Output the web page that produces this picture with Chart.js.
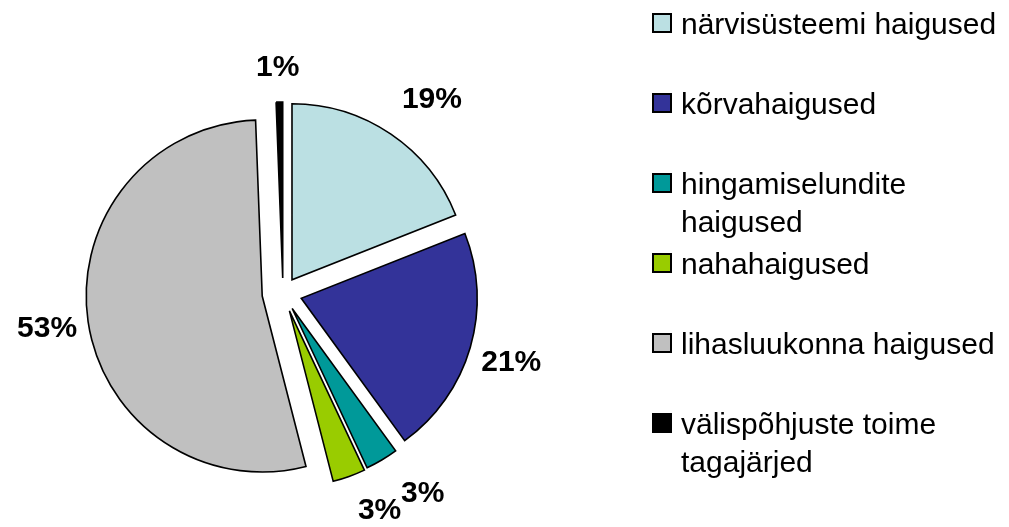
<!DOCTYPE html>
<html lang="et">
<head>
<meta charset="utf-8">
<title>Haigused</title>
<script src="https://cdn.jsdelivr.net/npm/chart.js@4.4.1/dist/chart.umd.min.js"></script>
<style>
    html, body {
        margin: 0;
        padding: 0;
        background: #ffffff;
    }
    #wrap {
        position: relative;
        width: 1009px;
        height: 527px;
        overflow: hidden;
    }
    #pieChart {
        position: absolute;
        left: 0;
        top: 0;
    }
    #legend {
        position: absolute;
        left: 652px;
        top: 5px;
        margin: 0;
        padding: 0;
        list-style: none;
        font-family: "Liberation Sans", Arial, sans-serif;
        font-size: 30px;
        line-height: 38px;
        color: #000000;
    }
    #legend li {
        display: flex;
        align-items: flex-start;
        height: 80px;
    }
    #legend .box {
        flex: none;
        width: 16px;
        height: 16px;
        margin-top: 8px;
        margin-right: 9px;
        border: 2px solid #000000;
    }
    #legend .text {
        width: 328px;
    }
</style>
</head>
<body>
<div id="wrap">
    <canvas id="pieChart" width="1009" height="527"></canvas>
    <ul id="legend"></ul>
</div>
<script>
// Chart data
const categories = [
    "närvisüsteemi haigused",
    "kõrvahaigused",
    "hingamiselundite haigused",
    "nahahaigused",
    "lihasluukonna haigused",
    "välispõhjuste toime tagajärjed"
];
const shares = [19, 21, 3, 3, 53.4, 0.6];
const colors = ["#BBE0E3", "#333399", "#009999", "#99CC00", "#C0C0C0", "#000000"];
// how far each slice is pulled out of the pie (px)
const explode = [16, 19, 18, 19, 21, 15];

document.addEventListener("DOMContentLoaded", function () {
    const legendEl = document.getElementById("legend");
    const ctx = document.getElementById("pieChart").getContext("2d");

    // Move every slice out along its middle angle
    const explodePlugin = {
        id: "explode",
        beforeDatasetsDraw(chart) {
            const area = chart.chartArea;
            const cx = (area.left + area.right) / 2;
            const cy = (area.top + area.bottom) / 2;
            chart.getDatasetMeta(0).data.forEach((arc, i) => {
                const mid = (arc.startAngle + arc.endAngle) / 2;
                arc.x = cx + Math.cos(mid) * explode[i];
                arc.y = cy + Math.sin(mid) * explode[i];
            });
        }
    };

    // Percent labels outside the slices
    const percentPlugin = {
        id: "percentLabels",
        afterDatasetsDraw(chart) {
            const meta = chart.getDatasetMeta(0);
            const total = shares.reduce((a, b) => a + b, 0);
            const c = chart.ctx;
            c.save();
            c.font = "bold 30px 'Liberation Sans', Arial, sans-serif";
            c.fillStyle = "#000000";
            c.textAlign = "center";
            c.textBaseline = "middle";
            meta.data.forEach((arc, i) => {
                const mid = (arc.startAngle + arc.endAngle) / 2;
                const ux = Math.cos(mid);
                const uy = Math.sin(mid);
                const ex = arc.x + ux * arc.outerRadius;
                const ey = arc.y + uy * arc.outerRadius;
                const kx = Math.max(-1, Math.min(1, ux * 2.2));
                const ky = Math.max(-1, Math.min(1, uy * 1.6));
                const label = Math.round(shares[i] / total * 100) + "%";
                c.fillText(label, ex + kx * 41, ey + ky * 34);
            });
            c.restore();
        }
    };

    const pieChart = new Chart(ctx, {
        type: "pie",
        data: {
            labels: categories,
            datasets: [
                {
                    data: shares,
                    backgroundColor: colors,
                    borderColor: "#000000",
                    borderWidth: 1.6,
                    borderJoinStyle: "miter",
                    radius: 176,
                    hoverOffset: 0
                }
            ]
        },
        options: {
            responsive: false,
            animation: false,
            events: [],
            layout: {
                padding: { left: 0, right: 443, top: 59, bottom: 0 }
            },
            plugins: {
                legend: { display: false },
                tooltip: { enabled: false }
            }
        },
        plugins: [explodePlugin, percentPlugin]
    });

    buildLegend(pieChart);

    // HTML legend built from the chart's own labels and colours
    function buildLegend(chart) {
        legendEl.innerHTML = "";
        chart.data.labels.forEach((label, i) => {
            const li = document.createElement("li");
            const box = document.createElement("span");
            box.className = "box";
            box.style.background = chart.data.datasets[0].backgroundColor[i];
            const text = document.createElement("span");
            text.className = "text";
            text.textContent = label;
            li.appendChild(box);
            li.appendChild(text);
            legendEl.appendChild(li);
        });
    }
});
</script>
</body>
</html>
